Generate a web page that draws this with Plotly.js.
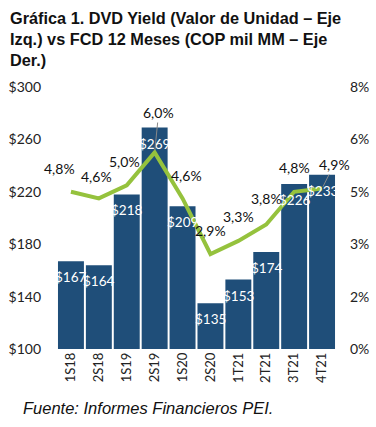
<!DOCTYPE html>
<html>
<head>
<meta charset="utf-8">
<script src="https://cdn.plot.ly/plotly-3.0.1.min.js"></script>
<style>html,body{margin:0;padding:0;background:#fff;}#chart{width:376px;height:427px;}</style>
</head>
<body>
<div id="chart"></div>
<script>
const categories = ["1S18","2S18","1S19","2S19","1S20","2S20","1T21","2T21","3T21","4T21"];
const fcdValues = [167,164,218,269,209,135,153,174,226,233];
const yieldValues = [0.048,0.046,0.050,0.060,0.046,0.029,0.033,0.038,0.048,0.049];
const leftTicks = [100,140,180,220,260,300];
const rightTicks = [0,0.016,0.032,0.048,0.064,0.08];

// label placement offsets (styling only)
const labelShift = [[-11,23],[-2,22],[-2,24],null,[4,23],[0,24],[0,24],[0,26],[0,24],null];
const arrowOffsets = {3:[4,-40],9:[12,-24]};

const fontFam = "Lato, 'Open Sans', sans-serif";

const bars = {
  type:'bar', x:categories, y:fcdValues, yaxis:'y',
  marker:{color:'#1f4e79'}, textposition:'none', hoverinfo:'none'
};
const line = {
  type:'scatter', mode:'lines', x:categories, y:yieldValues, yaxis:'y2',
  line:{color:'#95c23d', width:4}, hoverinfo:'none'
};

const annotations = [];
fcdValues.forEach((v,i)=>{
  annotations.push({x:categories[i], y:v, xref:'x', yref:'y', text:'$'+v, showarrow:false,
    yanchor:'middle', yshift:-16, font:{size:13.5, family:fontFam, color:'#ffffff'}});
});
yieldValues.forEach((v,i)=>{
  const txt = (v*100).toFixed(1).replace('.',',')+'%';
  const base = {x:categories[i], y:v, xref:'x', yref:'y2', text:txt,
    font:{size:14, family:fontFam, color:'#111'}};
  if (arrowOffsets[i]) {
    annotations.push(Object.assign(base,{showarrow:true, arrowhead:0, arrowwidth:1, arrowcolor:'#888',
      ax:arrowOffsets[i][0], ay:arrowOffsets[i][1], standoff:2, startstandoff:0}));
  } else {
    annotations.push(Object.assign(base,{showarrow:false, xshift:labelShift[i][0], yshift:labelShift[i][1]}));
  }
});
annotations.push({xref:'paper', yref:'paper', x:-0.13, y:-0.225, xanchor:'left', yanchor:'middle',
  showarrow:false, text:'<i>Fuente: Informes Financieros PEI.</i>',
  font:{size:16.5, family:"'Liberation Sans', Arial, sans-serif", color:'#111'}});
annotations.push({xref:'paper', yref:'paper', x:-0.175, y:1.305, xanchor:'left', yanchor:'top', align:'left',
  showarrow:false,
  text:'<b>Gráfica 1. DVD Yield (Valor de Unidad – Eje<br>Izq.) vs FCD 12 Meses (COP mil MM – Eje<br>Der.)</b>',
  font:{size:16.3, family:"'Liberation Sans', Arial, sans-serif", color:'#111'}});

const layout = {
  width:376, height:427,
  margin:{l:57, r:40, t:87, b:78},
  paper_bgcolor:'#fff', plot_bgcolor:'#fff',
  showlegend:false, bargap:0.07,
  xaxis:{type:'category', range:[-0.5,9.5], tickangle:-90, showgrid:false, zeroline:false, showline:false,
    ticks:'', tickfont:{size:13, family:fontFam, color:'#222'}, automargin:false},
  yaxis:{range:[100,300], tickvals:leftTicks, ticktext:leftTicks.map(v=>'$'+v),
    showgrid:false, zeroline:false, showline:false, ticks:'', ticklabelstandoff:15, automargin:false,
    tickfont:{size:14, family:fontFam, color:'#222'}},
  yaxis2:{range:[0,0.08], overlaying:'y', side:'right', tickvals:rightTicks,
    ticktext:rightTicks.map(v=>Math.round(v*100)+'%'),
    showgrid:false, zeroline:false, showline:false, ticks:'', ticklabelstandoff:13, automargin:false,
    tickfont:{size:14, family:fontFam, color:'#222'}},
  annotations:annotations
};
Plotly.newPlot('chart',[bars,line],layout,{staticPlot:true, displayModeBar:false});
</script>
</body>
</html>
